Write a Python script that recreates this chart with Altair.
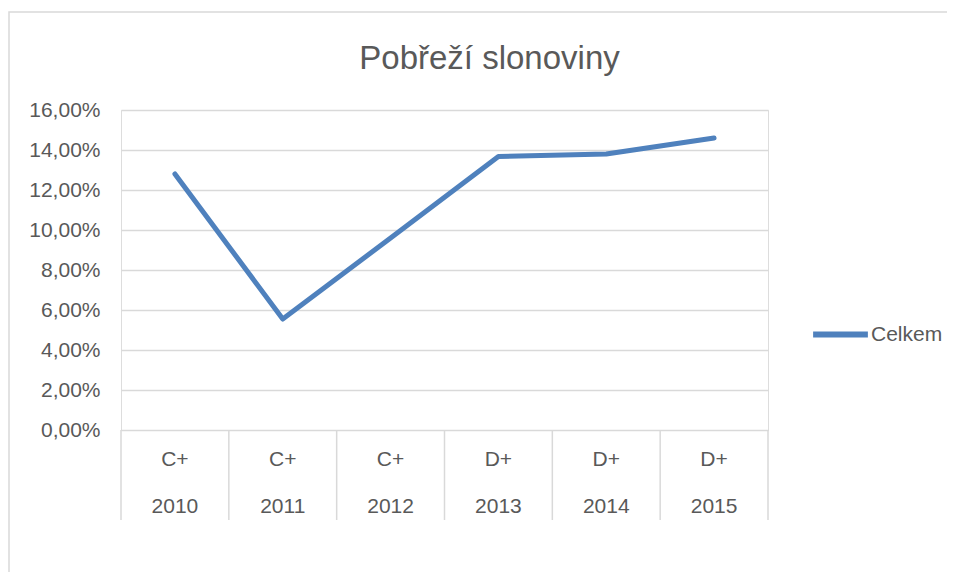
import altair as alt
import pandas as pd

years = ["2010", "2011", "2012", "2013", "2014", "2015"]
ratings = ["C+", "C+", "C+", "D+", "D+", "D+"]
values = [0.128, 0.0555, 0.096, 0.1368, 0.138, 0.146]
series_name = "Celkem"
y_ticks = [0, 0.02, 0.04, 0.06, 0.08, 0.10, 0.12, 0.14, 0.16]

FONT = "Liberation Sans"
TXT = "#595959"
GRID = "#d9d9d9"
BLUE = "#4f81bd"
W, H = 647, 320

df = pd.DataFrame({
    "i": list(range(len(years))),
    "year": years,
    "rating": ratings,
    "value": values,
    "series": [series_name] * len(years),
})
bounds = pd.DataFrame({"b": [k - 0.5 for k in range(len(years) + 1)]})

xs = alt.Scale(domain=[-0.5, len(years) - 0.5], nice=False, zero=False)
ys = alt.Scale(domain=[0, 0.16], nice=False)

base = alt.Chart(df)

border = alt.Chart(pd.DataFrame({"k": [0]})).mark_rect(
    fillOpacity=0, stroke=GRID, strokeWidth=1.5
).encode(
    x=alt.value(-112), x2=alt.value(W + 250),
    y=alt.value(-98), y2=alt.value(H + 250),
)

line = base.mark_line(strokeWidth=5, strokeCap="round", strokeJoin="round").encode(
    x=alt.X("i:Q", scale=xs, axis=None),
    y=alt.Y(
        "value:Q", scale=ys,
        axis=alt.Axis(
            values=y_ticks, title=None, domain=False, ticks=False,
            labelExpr="replace(format(datum.value, '.2%'), '.', ',')",
            labelFontSize=21, labelFont=FONT, labelColor=TXT, labelPadding=21,
            gridColor=GRID, gridWidth=1.5,
        ),
    ),
    color=alt.Color(
        "series:N", scale=alt.Scale(range=[BLUE]),
        legend=alt.Legend(
            title=None, orient="none", legendX=689, legendY=194,
            symbolType="stroke", symbolSize=3000, symbolStrokeWidth=6,
            labelFontSize=21, labelFont=FONT, labelColor=TXT, labelOffset=0,
            padding=0,
        ),
    ),
)

seps = alt.Chart(bounds).mark_rule(color=GRID, strokeWidth=1.5).encode(
    x=alt.X("b:Q", scale=xs, axis=None),
    y=alt.value(H), y2=alt.value(H + 90),
)

rating_txt = base.mark_text(fontSize=21, font=FONT, color=TXT, baseline="middle").encode(
    x=alt.X("i:Q", scale=xs, axis=None), y=alt.value(H + 30), text="rating:N",
)
year_txt = base.mark_text(fontSize=21, font=FONT, color=TXT, baseline="middle").encode(
    x=alt.X("i:Q", scale=xs, axis=None), y=alt.value(H + 77), text="year:N",
)

chart = alt.layer(border, seps, line, rating_txt, year_txt).properties(
    width=W, height=H,
    autosize=alt.AutoSizeParams(type="none"),
    padding={"left": 113, "top": 102, "right": 179, "bottom": 142},
    title=alt.TitleParams(
        "Pobřeží slonoviny", fontSize=33, font=FONT, color=TXT, fontWeight="normal",
        anchor="middle", frame="group", dx=45, offset=-65,
    ),
).configure_view(stroke=None).configure(background="white")

chart.save("out.html", embed_options={"renderer": "svg", "actions": False})
